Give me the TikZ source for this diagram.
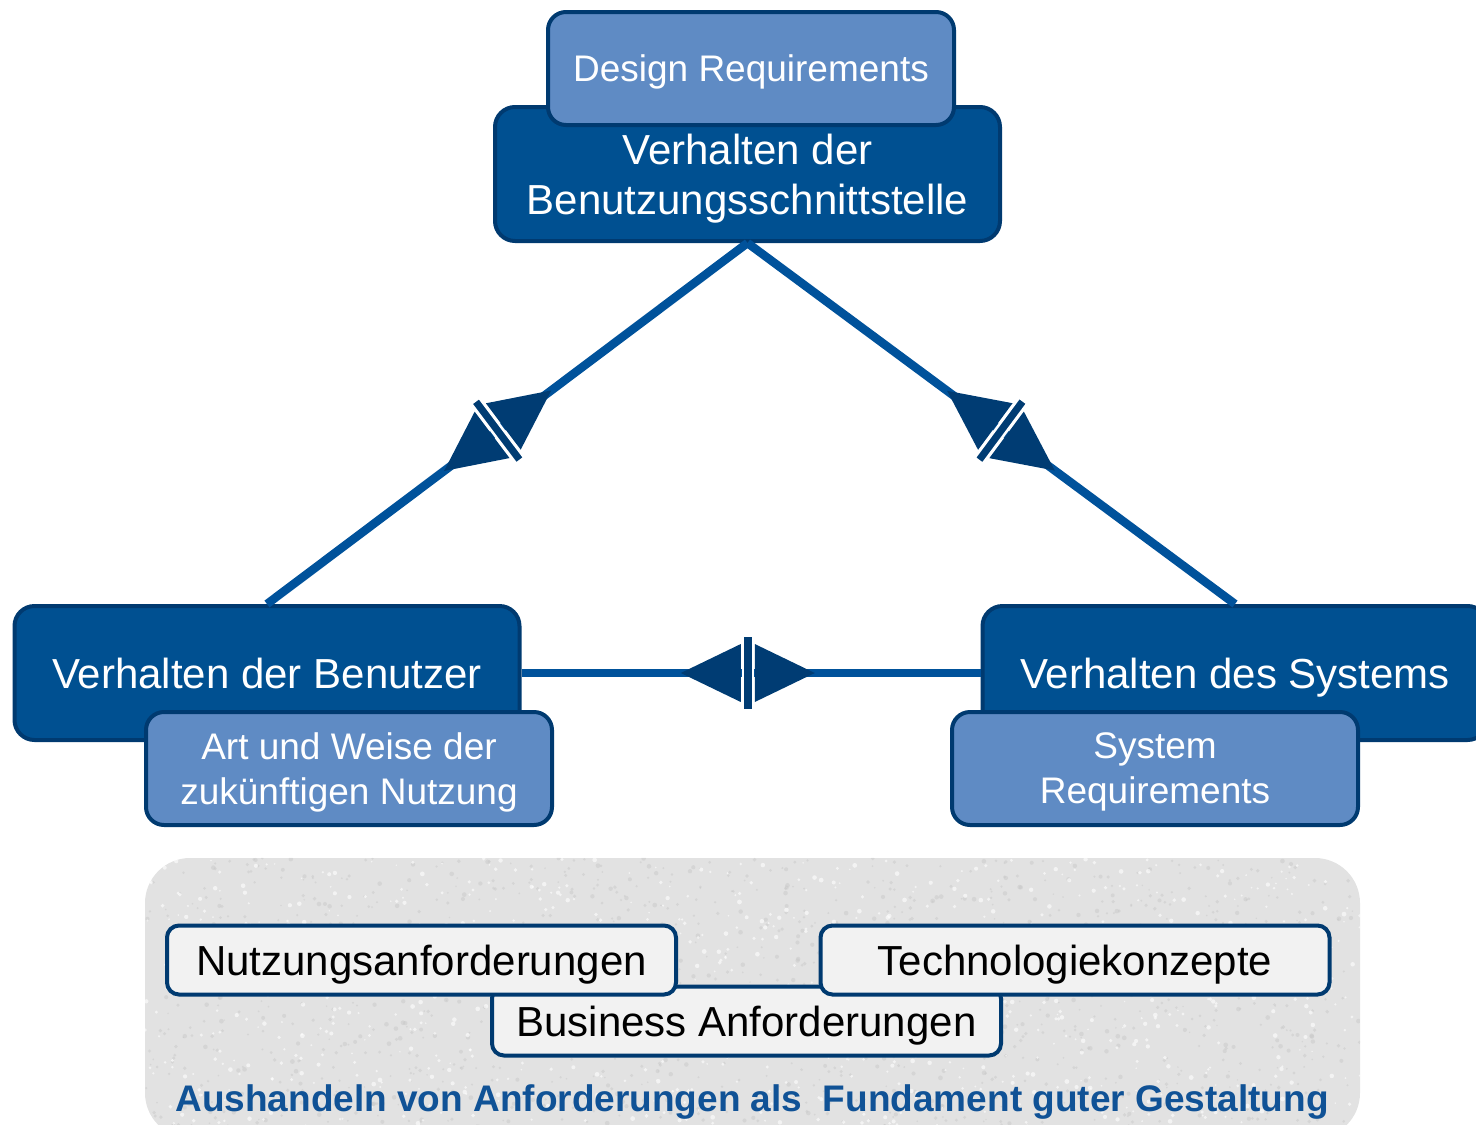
\documentclass[tikz,border=0pt]{standalone}
\usepackage{fontspec}
\setmainfont{Liberation Sans}
\usetikzlibrary{decorations.markings}
\definecolor{darkfill}{RGB}{0,80,145}
\definecolor{darkline}{RGB}{0,58,112}
\definecolor{lightfill}{RGB}{95,139,196}
\definecolor{linecol}{RGB}{0,82,155}
\definecolor{symcol}{RGB}{0,60,115}
\definecolor{panelgray}{RGB}{226,226,226}
\definecolor{boxwhite}{RGB}{242,242,242}
\definecolor{titleblue}{RGB}{16,82,150}
\begin{document}
\begin{tikzpicture}[x=1pt,y=-1pt,
  darkbox/.style={draw=darkline, fill=darkfill, line width=4pt, rounded corners=20pt,
    minimum width=505pt, minimum height=134pt, inner sep=0pt, text=white, align=center,
    text depth=0pt, font=\fontsize{42}{50}\selectfont},
  lightbox/.style={draw=darkline, fill=lightfill, line width=4pt, rounded corners=18pt,
    minimum width=406pt, minimum height=113pt, inner sep=0pt, text=white, align=center,
    text depth=0pt, font=\fontsize{37}{45}\selectfont},
  whitebox/.style={draw=darkline, fill=boxwhite, line width=4pt, rounded corners=12pt,
    minimum width=509pt, minimum height=69pt, inner sep=0pt, text=black,
    text depth=0pt, font=\fontsize{42}{50}\selectfont},
  panel/.style={fill=panelgray, rounded corners=45pt, minimum width=1215pt, minimum height=280pt, inner sep=0pt},
  conn/.style={draw=linecol, line width=8.5pt},
  sym/.style={postaction={decorate}, decoration={markings, mark=at position #1 with {
      \fill[symcol] (7,-29) -- (7,29) -- (67,0) -- cycle;
      \fill[symcol] (-7,-29) -- (-7,29) -- (-67,0) -- cycle;
      \filldraw[fill=symcol, draw=white, line width=2.5pt] (-5,-37.5) rectangle (5,37.5);
  }}}
]
\useasboundingbox (0,0) rectangle (1476,1125);

% bottom panel with a light speckled texture
\node[panel] (panel) at (752.5,998) {};
\begin{scope}
  \clip[rounded corners=45pt] (panel.north west) rectangle (panel.south east);
  \pgfmathsetseed{7}
  \foreach \i in {1,...,1400} {
    \fill[black!22, opacity=0.45] ({145+rnd*1215},{858+rnd*280}) circle ({0.8+rnd*1.6});
  }
  \foreach \i in {1,...,900} {
    \fill[white, opacity=0.6] ({145+rnd*1215},{858+rnd*280}) circle ({0.8+rnd*1.6});
  }
\end{scope}

% top group
\node[darkbox] (top) at (747.5,174) {Verhalten der\\Benutzungsschnittstelle};
\node[lightbox] (design) at (751,68.5) {Design Requirements};

% left group
\node[darkbox] (left) at (267,673) {Verhalten der Benutzer};
\node[lightbox] (art) at (349,768.5) {Art und Weise der\\zukünftigen Nutzung};

% right group
\node[darkbox] (right) at (1235,673) {Verhalten des Systems};
\node[lightbox] (sysreq) at (1155,768.5) {System\\Requirements};

% connectors
\draw[conn, sym=0.52] (top.south) -- (left.north);
\draw[conn, sym=0.52] (top.south) -- (right.north);
\draw[conn, sym=0.493] (left.east) -- (right.west);

% bottom boxes
\node[whitebox] (bus) at (746.5,1021) {Business Anforderungen};
\node[whitebox] (nutz) at (421.5,960) {Nutzungsanforderungen};
\node[whitebox] (tech) at (1075,960) {Technologiekonzepte};

\node[text=titleblue, font=\fontsize{37}{44}\selectfont\bfseries, inner sep=0pt, text depth=0pt] (caption) at (752,1098)
  {Aushandeln von Anforderungen als\ \ Fundament guter Gestaltung};
\end{tikzpicture}
\end{document}
